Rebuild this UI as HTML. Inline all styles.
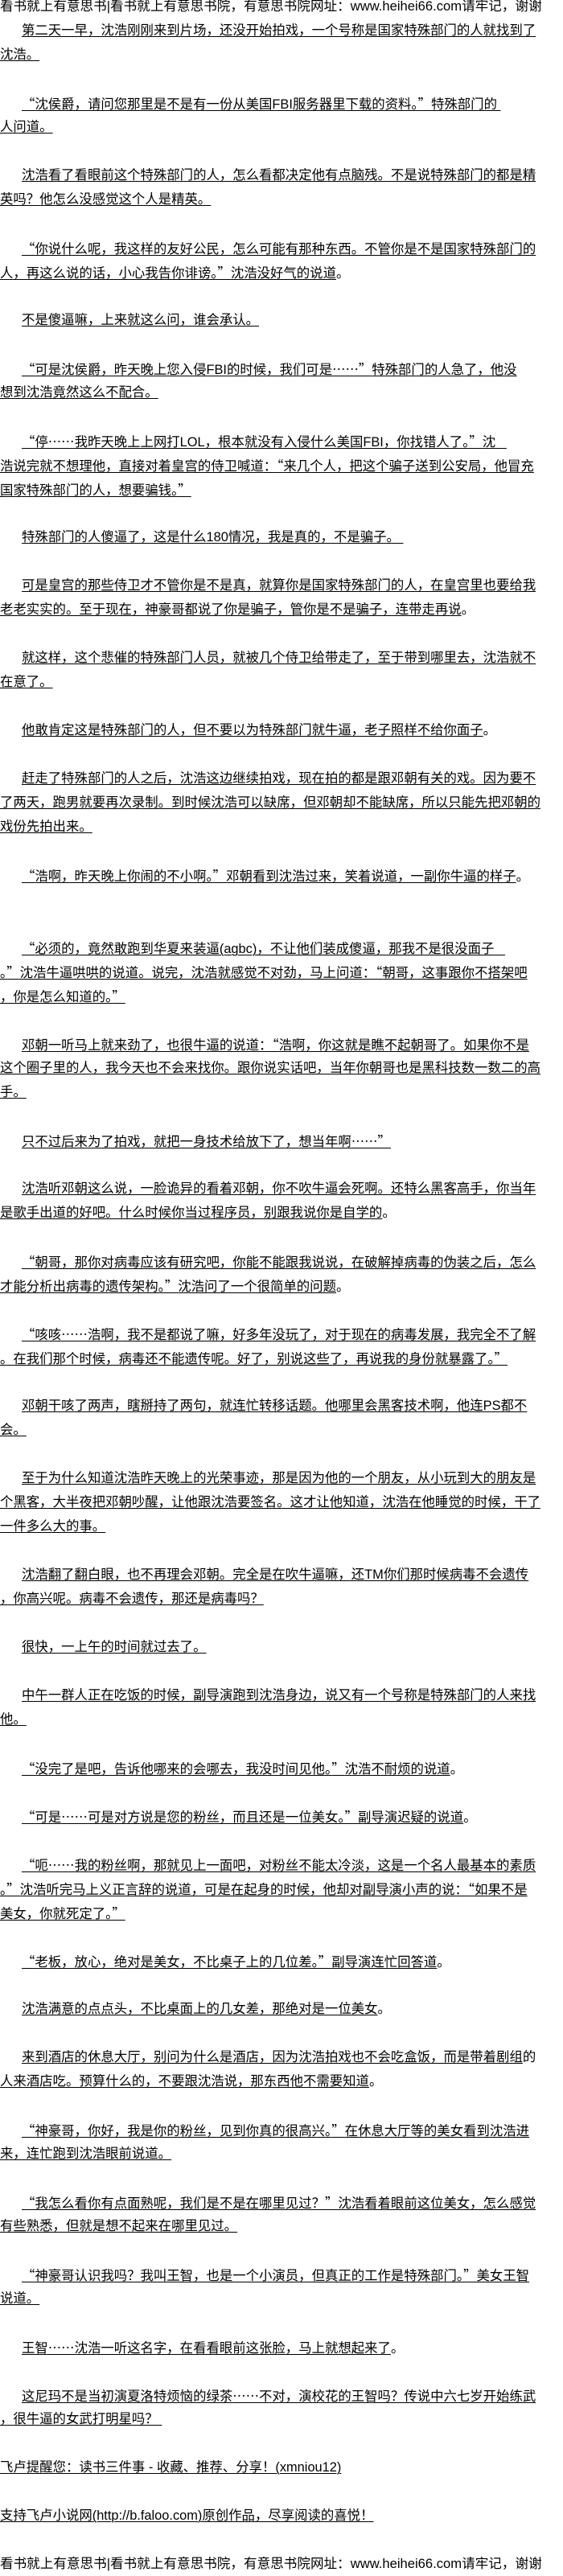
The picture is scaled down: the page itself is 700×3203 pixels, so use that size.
<!DOCTYPE html>
<html><head><meta charset="utf-8">
<style>
html,body{margin:0;padding:0;background:#fff;}
body{width:700px;height:3200px;overflow:hidden;position:relative;
font-family:"Liberation Sans","Noto Sans CJK SC","WenQuanYi Zen Hei",sans-serif;font-size:16.4px;color:#000;}
#w{position:absolute;left:0;top:-7px;width:700px;}
.r{height:30px;line-height:30px;white-space:nowrap;}
.u{text-decoration:underline;text-decoration-thickness:1px;text-underline-offset:2px;}
.i{padding-left:27px;}
.h{font-size:16.6px;}
.q{font-family:"Noto Sans CJK SC","WenQuanYi Zen Hei",sans-serif;}
</style></head><body><div id="w">
<div class="r h">看书就上有意思书|看书就上有意思书院，有意思书院网址：www.heihei66.com请牢记，谢谢</div>
<div class="r i"><span class="u">第二天一早，沈浩刚刚来到片场，还没开始拍戏，一个号称是国家特殊部门的人就找到了</span></div>
<div class="r"><span class="u">沈浩。</span></div>
<div class="r"></div>
<div class="r i"><span class="u"><span class="q">“</span>沈侯爵，请问您那里是不是有一份从美国FBI服务器里下载的资料。<span class="q">”</span>特殊部门的&nbsp;</span></div>
<div class="r"><span class="u">人问道。</span></div>
<div class="r"></div>
<div class="r i"><span class="u">沈浩看了看眼前这个特殊部门的人，怎么看都决定他有点脑残。不是说特殊部门的都是精</span></div>
<div class="r"><span class="u">英吗？他怎么没感觉这个人是精英。</span></div>
<div class="r"></div>
<div class="r i"><span class="u"><span class="q">“</span>你说什么呢，我这样的友好公民，怎么可能有那种东西。不管你是不是国家特殊部门的</span></div>
<div class="r"><span class="u">人，再这么说的话，小心我告你诽谤。<span class="q">”</span>沈浩没好气的说道</span>。</div>
<div class="r"></div>
<div class="r i"><span class="u">不是傻逼嘛，上来就这么问，谁会承认。</span></div>
<div class="r"></div>
<div class="r i"><span class="u"><span class="q">“</span>可是沈侯爵，昨天晚上您入侵FBI的时候，我们可是<span class="q">……”</span>特殊部门的人急了，他没</span></div>
<div class="r"><span class="u">想到沈浩竟然这么不配合。</span></div>
<div class="r"></div>
<div class="r i"><span class="u"><span class="q">“</span>停<span class="q">……</span>我昨天晚上上网打LOL，根本就没有入侵什么美国FBI，你找错人了。<span class="q">”</span>沈&nbsp;&nbsp;&nbsp;</span></div>
<div class="r"><span class="u">浩说完就不想理他，直接对着皇宫的侍卫喊道：<span class="q">“</span>来几个人，把这个骗子送到公安局，他冒充</span></div>
<div class="r"><span class="u">国家特殊部门的人，想要骗钱。<span class="q">”</span></span></div>
<div class="r"></div>
<div class="r i"><span class="u">特殊部门的人傻逼了，这是什么180情况，我是真的，不是骗子。&nbsp;</span></div>
<div class="r"></div>
<div class="r i"><span class="u">可是皇宫的那些侍卫才不管你是不是真，就算你是国家特殊部门的人，在皇宫里也要给我</span></div>
<div class="r"><span class="u">老老实实的。至于现在，神豪哥都说了你是骗子，管你是不是骗子，连带走再说</span>。</div>
<div class="r"></div>
<div class="r i"><span class="u">就这样，这个悲催的特殊部门人员，就被几个侍卫给带走了，至于带到哪里去，沈浩就不</span></div>
<div class="r"><span class="u">在意了。</span></div>
<div class="r"></div>
<div class="r i"><span class="u">他敢肯定这是特殊部门的人，但不要以为特殊部门就牛逼，老子照样不给你面子</span>。</div>
<div class="r"></div>
<div class="r i"><span class="u">赶走了特殊部门的人之后，沈浩这边继续拍戏，现在拍的都是跟邓朝有关的戏。因为要不</span></div>
<div class="r"><span class="u">了两天，跑男就要再次录制。到时候沈浩可以缺席，但邓朝却不能缺席，所以只能先把邓朝的</span></div>
<div class="r"><span class="u">戏份先拍出来。</span></div>
<div class="r"></div>
<div class="r i"><span class="u"><span class="q">“</span>浩啊，昨天晚上你闹的不小啊。<span class="q">”</span>邓朝看到沈浩过来，笑着说道，一副你牛逼的样子</span>。</div>
<div class="r"></div>
<div class="r"></div>
<div class="r i"><span class="u"><span class="q">“</span>必须的，竟然敢跑到华夏来装逼(agbc)，不让他们装成傻逼，那我不是很没面子&nbsp;&nbsp;&nbsp;</span></div>
<div class="r"><span class="u">。<span class="q">”</span>沈浩牛逼哄哄的说道。说完，沈浩就感觉不对劲，马上问道：<span class="q">“</span>朝哥，这事跟你不搭架吧</span></div>
<div class="r"><span class="u">，你是怎么知道的。<span class="q">”</span></span></div>
<div class="r"></div>
<div class="r i"><span class="u">邓朝一听马上就来劲了，也很牛逼的说道：<span class="q">“</span>浩啊，你这就是瞧不起朝哥了。如果你不是</span></div>
<div class="r"><span class="u">这个圈子里的人，我今天也不会来找你。跟你说实话吧，当年你朝哥也是黑科技数一数二的高</span></div>
<div class="r"><span class="u">手。</span></div>
<div class="r"></div>
<div class="r i"><span class="u">只不过后来为了拍戏，就把一身技术给放下了，想当年啊<span class="q">……”</span></span></div>
<div class="r"></div>
<div class="r i"><span class="u">沈浩听邓朝这么说，一脸诡异的看着邓朝，你不吹牛逼会死啊。还特么黑客高手，你当年</span></div>
<div class="r"><span class="u">是歌手出道的好吧。什么时候你当过程序员，别跟我说你是自学的</span>。</div>
<div class="r"></div>
<div class="r i"><span class="u"><span class="q">“</span>朝哥，那你对病毒应该有研究吧，你能不能跟我说说，在破解掉病毒的伪装之后，怎么</span></div>
<div class="r"><span class="u">才能分析出病毒的遗传架构。<span class="q">”</span>沈浩问了一个很简单的问题</span>。</div>
<div class="r"></div>
<div class="r i"><span class="u"><span class="q">“</span>咳咳<span class="q">……</span>浩啊，我不是都说了嘛，好多年没玩了，对于现在的病毒发展，我完全不了解</span></div>
<div class="r"><span class="u">。在我们那个时候，病毒还不能遗传呢。好了，别说这些了，再说我的身份就暴露了。<span class="q">”</span></span></div>
<div class="r"></div>
<div class="r i"><span class="u">邓朝干咳了两声，瞎掰持了两句，就连忙转移话题。他哪里会黑客技术啊，他连PS都不</span></div>
<div class="r"><span class="u">会。</span></div>
<div class="r"></div>
<div class="r i"><span class="u">至于为什么知道沈浩昨天晚上的光荣事迹，那是因为他的一个朋友，从小玩到大的朋友是</span></div>
<div class="r"><span class="u">个黑客，大半夜把邓朝吵醒，让他跟沈浩要签名。这才让他知道，沈浩在他睡觉的时候，干了</span></div>
<div class="r"><span class="u">一件多么大的事。</span></div>
<div class="r"></div>
<div class="r i"><span class="u">沈浩翻了翻白眼，也不再理会邓朝。完全是在吹牛逼嘛，还TM你们那时候病毒不会遗传</span></div>
<div class="r"><span class="u">，你高兴呢。病毒不会遗传，那还是病毒吗？</span></div>
<div class="r"></div>
<div class="r i"><span class="u">很快，一上午的时间就过去了。</span></div>
<div class="r"></div>
<div class="r i"><span class="u">中午一群人正在吃饭的时候，副导演跑到沈浩身边，说又有一个号称是特殊部门的人来找</span></div>
<div class="r"><span class="u">他。</span></div>
<div class="r"></div>
<div class="r i"><span class="u"><span class="q">“</span>没完了是吧，告诉他哪来的会哪去，我没时间见他。<span class="q">”</span>沈浩不耐烦的说道</span>。</div>
<div class="r"></div>
<div class="r i"><span class="u"><span class="q">“</span>可是<span class="q">……</span>可是对方说是您的粉丝，而且还是一位美女。<span class="q">”</span>副导演迟疑的说道</span>。</div>
<div class="r"></div>
<div class="r i"><span class="u"><span class="q">“</span>呃<span class="q">……</span>我的粉丝啊，那就见上一面吧，对粉丝不能太冷淡，这是一个名人最基本的素质</span></div>
<div class="r"><span class="u">。<span class="q">”</span>沈浩听完马上义正言辞的说道，可是在起身的时候，他却对副导演小声的说：<span class="q">“</span>如果不是</span></div>
<div class="r"><span class="u">美女，你就死定了。<span class="q">”</span></span></div>
<div class="r"></div>
<div class="r i"><span class="u"><span class="q">“</span>老板，放心，绝对是美女，不比桌子上的几位差。<span class="q">”</span>副导演连忙回答道</span>。</div>
<div class="r"></div>
<div class="r i"><span class="u">沈浩满意的点点头，不比桌面上的几女差，那绝对是一位美女</span>。</div>
<div class="r"></div>
<div class="r i"><span class="u">来到酒店的休息大厅，别问为什么是酒店，因为沈浩拍戏也不会吃盒饭，而是带着剧组</span>的</div>
<div class="r"><span class="u">人来酒店吃。预算什么的，不要跟沈浩说，那东西他不需要知道</span>。</div>
<div class="r"></div>
<div class="r i"><span class="u"><span class="q">“</span>神豪哥，你好，我是你的粉丝，见到你真的很高兴。<span class="q">”</span>在休息大厅等的美女看到沈浩进</span></div>
<div class="r"><span class="u">来，连忙跑到沈浩眼前说道。</span></div>
<div class="r"></div>
<div class="r i"><span class="u"><span class="q">“</span>我怎么看你有点面熟呢，我们是不是在哪里见过？<span class="q">”</span>沈浩看着眼前这位美女，怎么感觉</span></div>
<div class="r"><span class="u">有些熟悉，但就是想不起来在哪里见过。</span></div>
<div class="r"></div>
<div class="r i"><span class="u"><span class="q">“</span>神豪哥认识我吗？我叫王智，也是一个小演员，但真正的工作是特殊部门。<span class="q">”</span>美女王智</span></div>
<div class="r"><span class="u">说道。</span></div>
<div class="r"></div>
<div class="r i"><span class="u">王智<span class="q">……</span>沈浩一听这名字，在看看眼前这张脸，马上就想起来了</span>。</div>
<div class="r"></div>
<div class="r i"><span class="u">这尼玛不是当初演夏洛特烦恼的绿茶<span class="q">……</span>不对，演校花的王智吗？传说中六七岁开始练武</span></div>
<div class="r"><span class="u">，很牛逼的女武打明星吗？&nbsp;</span></div>
<div class="r"></div>
<div class="r"><span class="u" style="display:inline-block;width:393px;">飞卢提醒您：读书三件事 - 收藏、推荐、分享！(xmniou12)</span></div>
<div class="r"></div>
<div class="r"><span class="u" style="display:inline-block;width:476px;">支持飞卢小说网(http://b.faloo.com)原创作品，尽享阅读的喜悦！</span></div>
<div class="r"></div>
<div class="r h">看书就上有意思书|看书就上有意思书院，有意思书院网址：www.heihei66.com请牢记，谢谢</div>
</div></body></html>
